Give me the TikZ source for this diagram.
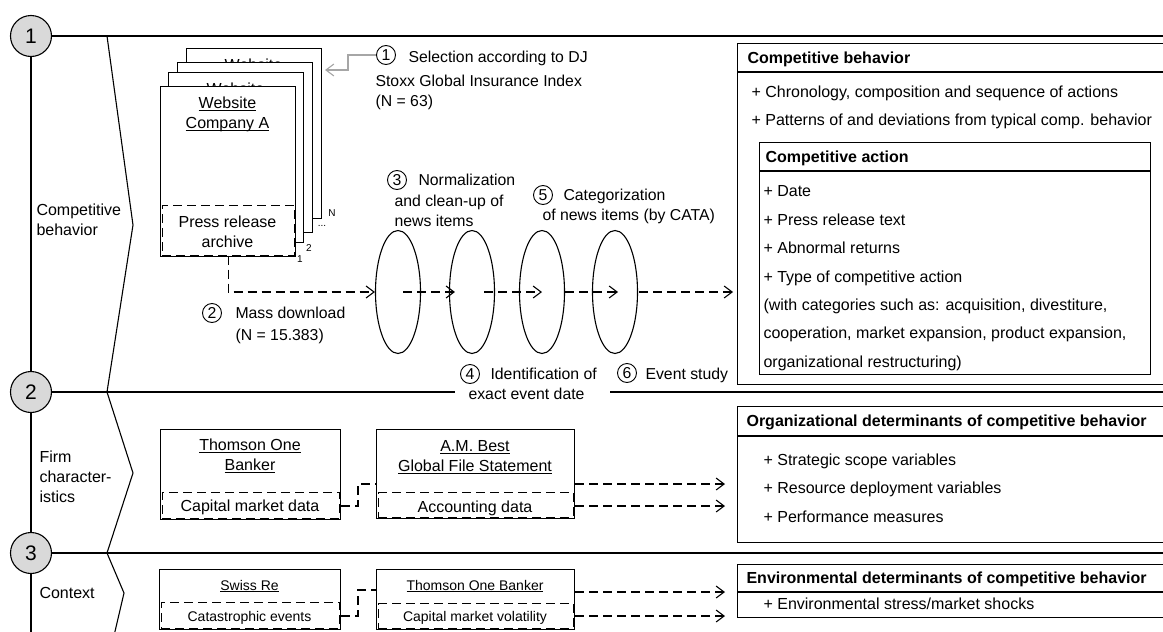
\documentclass[tikz,border=0pt]{standalone}
\usepackage{fontspec}
\setmainfont{Liberation Sans}
\usetikzlibrary{shapes.geometric,arrows.meta}

\newcommand\fsmain{\fontsize{16pt}{20pt}\selectfont}
\newcommand\fsnote{\fontsize{15.8pt}{20pt}\selectfont}
\newcommand\fsdata{\fontsize{14pt}{18pt}\selectfont}
\newcommand\fsbig{\fontsize{21pt}{24pt}\selectfont}
\newcommand\fstiny{\fontsize{10pt}{12pt}\selectfont}
% underline close to the baseline, crossing descenders
\newcommand\undl[1]{\setbox0=\hbox{#1}\rlap{\rule[-2.2pt]{\wd0}{0.9pt}}\box0}

\tikzset{
  secnum/.style={circle,draw,fill=black!15,minimum size=41pt,inner sep=0pt,font=\fsbig},
  cnum/.style={circle,draw,line width=0.9pt,minimum size=19pt,inner sep=0pt,font=\fsnote},
  txt/.style={inner sep=0pt,text height=15pt,text depth=3.5pt,font=\fsmain},
  mtxt/.style={inner sep=0pt,font=\fsmain},
  note/.style={txt,font=\fsnote,anchor=west},
  mnote/.style={mtxt,font=\fsnote,anchor=west,align=left},
  item/.style={txt,anchor=west},
  head/.style={txt,anchor=west,font=\fsmain\bfseries},
  dtxt/.style={inner sep=0pt,text height=13pt,text depth=3pt,font=\fsdata},
  tiny/.style={inner sep=0pt,font=\fstiny},
  dline/.style={dash pattern=on 9pt off 5pt},
  darrow/.style={dline,-{Straight Barb[length=8pt,width=12pt]}},
  garrow/.style={draw=black!35,-{Straight Barb[length=8pt,width=12pt]}},
  page/.style={draw,fill=white,minimum width=135pt,minimum height=170pt,anchor=north west,inner sep=0pt},
  sheet/.style={draw,anchor=north west,inner sep=0pt},
  dsheet/.style={draw,dline,anchor=north west,inner sep=0pt},
  phase/.style={ellipse,draw,minimum width=45pt,minimum height=123pt,inner sep=0pt},
  rule/.style={line width=2pt},
}

\begin{document}
\begin{tikzpicture}[x=1pt,y=-1pt,line width=1.1pt]
\useasboundingbox (0,0) rectangle (1163,632);
\clip (0,0) rectangle (1163,632);

% ---- timeline with the three sections ----
\node[secnum] (s1) at (31,36) {1};
\node[secnum] (s2) at (31,392) {2};
\node[secnum] (s3) at (31,553) {3};
\coordinate (bot) at (31,640);
\draw (s1.south) -- (s2.north);
\draw (s2.south) -- (s3.north);
\draw (s3.south) -- (bot);
\draw (s1.east) -- (1170,36);
\draw (s2.east) -- (455,392);
\draw (610,392) -- (1170,392);
\draw (s3.east) -- (1170,553);
\draw (107,36) -- (133,225) -- (107,392) -- (133,473) -- (107,553) -- (124,593) -- (113,640);

\node[mtxt,anchor=west,align=left] (l1) at (36,220) {Competitive\\behavior};
\node[mtxt,anchor=west,align=left] (l2) at (39,476.5) {Firm\\character-\\istics};
\node[txt,anchor=west] (l3) at (39,593) {Context};

% ---- stack of company websites (only the title tops of the back sheets show) ----
\node[page] (pg4) at (186,48) {};
\node[txt] (pt4) at (253.5,65) {Website};
\node[page] (pg3) at (177,62) {};
\node[page] (pg2) at (168,72) {};
\node[txt] (pt2) at (235.5,89) {Website};
\node[page] (pg1) at (160,86) {};
\node[mtxt,align=center] (pt1) at (227.5,114.7) {\undl{Website}\\\undl{Company A}};
\node[dsheet,minimum width=132pt,minimum height=49.5pt] (arch) at (161.5,205) {};
\node[mtxt,align=center] (archt) at (227.5,231.5) {Press release\\archive};
\node[tiny] (k1) at (300,259) {1};
\node[tiny] (k2) at (309,248) {2};
\node[tiny] (k3) at (322,226) {...};
\node[tiny] (kN) at (332,213) {N};

% ---- selection of the sample ----
\node[cnum] (n1) at (386,55) {1};
\node[note] (t1) at (408,57) {Selection according to DJ};
\node[mnote] (t1b) at (375,92.7) {Stoxx Global Insurance Index\\(N = 63)};
\coordinate (gtip) at (325,70);
\draw[garrow] (n1.west) -- (348,55) -- (348,70) -- (gtip);

% ---- processing steps ----
\node[phase] (e1) at (398,292) {};
\node[phase] (e2) at (472,292) {};
\node[phase] (e3) at (542,292) {};
\node[phase] (e4) at (615,292) {};

\draw[darrow] (arch.south) |- (e1.west);
\draw[darrow] ([xshift=5pt]e1.center) -- ([xshift=6pt]e2.west);
\draw[darrow] ([xshift=-11pt]e2.east) -- (e3.center);
\draw[darrow] (e3.east) -- ([xshift=3pt]e4.center);

\node[cnum] (n2) at (212,313) {2};
\node[note] (t2) at (235,313) {Mass download};
\node[note] (t2b) at (235,335) {(N = 15.383)};

\node[cnum] (n3) at (397,180) {3};
\node[note] (t3) at (418,180) {Normalization};
\node[mnote] (t3b) at (394,210.5) {and clean-up of\\news items};

\node[cnum] (n4) at (470,374) {4};
\node[note] (t4) at (490,374) {Identification of};
\node[note] (t4b) at (468,394) {exact event date};

\node[cnum] (n5) at (543,195) {5};
\node[note] (t5) at (563,195) {Categorization};
\node[note] (t5b) at (542,215) {of news items (by CATA)};

\node[cnum] (n6) at (627,373) {6};
\node[note] (t6) at (645,374) {Event study};

% ---- competitive behavior ----
\node[sheet,minimum width=450pt,minimum height=341pt] (cb) at (737,43) {};
\draw[rule] (cb.west |- 0,72) -- (1190,72);
\node[head] (cbh) at (747,58) {Competitive behavior};
\node[item] (cb1) at (751,92) {+ Chronology, composition and sequence of actions};
\node[item] (cb2) at (751,120) {+ Patterns of and deviations from typical comp. behavior};
\node[sheet,minimum width=391pt,minimum height=232pt] (ca) at (759,142) {};
\draw[rule] (ca.west |- 0,171) -- (ca.east |- 0,171);
\node[head] (cah) at (765,157) {Competitive action};
\node[item] (ca1) at (763,191) {+ Date};
\node[item] (ca2) at (763,220) {+ Press release text};
\node[item] (ca3) at (763,248) {+ Abnormal returns};
\node[item] (ca4) at (763,277) {+ Type of competitive action};
\node[item] (ca5) at (763,305) {(with categories such as: acquisition, divestiture,};
\node[item] (ca6) at (763,333) {cooperation, market expansion, product expansion,};
\node[item] (ca7) at (763,362) {organizational restructuring)};
\draw[darrow,shorten >=4pt] ([xshift=1pt]e4.east) -- (e4.east -| cb.west);

% ---- firm characteristics ----
\node[sheet,minimum width=180pt,minimum height=90pt] (tob) at (160,429) {};
\node[dsheet,minimum width=177pt,minimum height=25.5pt] (tobd) at (161.5,492) {};
\node[mtxt,align=center] (tobt) at (250,455.5) {\undl{Thomson One}\\\undl{Banker}};
\node[txt] (tobdt) at (250,506) {Capital market data};

\node[sheet,minimum width=198pt,minimum height=89pt] (amb) at (376,429) {};
\node[dsheet,minimum width=195pt,minimum height=24.5pt] (ambd) at (377.5,492) {};
\node[mtxt,align=center] (ambt) at (475,457.5) {\undl{A.M. Best}\\\undl{Global File Statement}};
\node[txt] (ambdt) at (475,507) {Accounting data};

\draw[dline] (tob.east |- 0,506) -- (358,506) |- (amb.west |- 0,484);

\node[sheet,minimum width=450pt,minimum height=136pt] (og) at (737,406) {};
\draw[rule] (og.west |- 0,436) -- (1190,436);
\node[head] (ogh) at (746,421) {Organizational determinants of competitive behavior};
\node[item] (og1) at (763,460) {+ Strategic scope variables};
\node[item] (og2) at (763,488) {+ Resource deployment variables};
\node[item] (og3) at (763,517) {+ Performance measures};

\draw[darrow,shorten >=12pt] (amb.east |- 0,484) -- (og.west |- 0,484);
\draw[darrow,shorten >=12pt] (amb.east |- 0,506) -- (og.west |- 0,506);

% ---- context ----
\node[sheet,minimum width=181pt,minimum height=60pt] (sre) at (159,569) {};
\node[dsheet,minimum width=178pt,minimum height=25.5pt] (sred) at (160.5,602) {};
\node[dtxt] (sret) at (249.5,585) {\undl{Swiss Re}};
\node[dtxt] (sredt) at (249.5,616) {Catastrophic events};

\node[sheet,minimum width=198pt,minimum height=60pt] (tob2) at (376,569) {};
\node[dsheet,minimum width=195pt,minimum height=24.5pt] (tob2d) at (377.5,603) {};
\node[dtxt] (tob2t) at (475,585) {\undl{Thomson One Banker}};
\node[dtxt] (tob2dt) at (475,616) {Capital market volatility};

\draw[dline] (sre.east |- 0,616) -- (358,616) |- (tob2.west |- 0,590);

\node[sheet,minimum width=450pt,minimum height=53pt] (ed) at (737,564) {};
\draw[rule] (ed.west |- 0,592) -- (1190,592);
\node[head] (edh) at (746,578) {Environmental determinants of competitive behavior};
\node[item] (ed1) at (763,604) {+ Environmental stress/market shocks};

\draw[darrow,shorten >=12pt] (tob2.east |- 0,592) -- (ed.west |- 0,592);
\draw[darrow,shorten >=12pt] (tob2.east |- 0,616) -- (ed.west |- 0,616);
\end{tikzpicture}
\end{document}
